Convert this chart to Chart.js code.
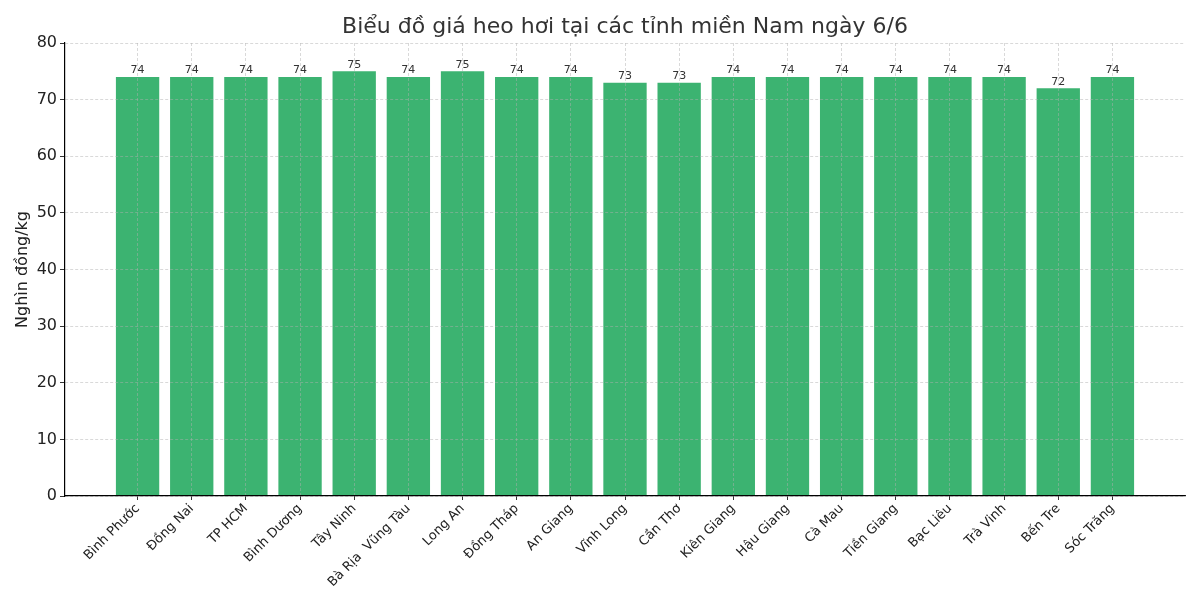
<!DOCTYPE html>
<html><head><meta charset="utf-8">
<script src="https://cdn.jsdelivr.net/npm/chart.js@4"></script>
<style>html,body{margin:0;padding:0;background:#fff}#wrap{width:1200px;height:600px}</style>
</head><body><div id="wrap"><canvas id="c" width="1200" height="600"></canvas></div>
<script>
const categories = ["Bình Phước","Đồng Nai","TP HCM","Bình Dương","Tây Ninh","Bà Rịa  Vũng Tàu","Long An","Đồng Tháp","An Giang","Vĩnh Long","Cần Thơ","Kiên Giang","Hậu Giang","Cà Mau","Tiền Giang","Bạc Liêu","Trà Vinh","Bến Tre","Sóc Trăng"];
const prices = [74,74,74,74,75,74,75,74,74,73,73,74,74,74,74,74,74,72,74];
const yTicks = [0,10,20,30,40,50,60,70,80];
const chartTitle = 'Biểu đồ giá heo hơi tại các tỉnh miền Nam ngày 6/6';

const FONT = "'DejaVu Sans', sans-serif";
Chart.defaults.font.family = FONT;
Chart.defaults.color = '#222';

const valueLabels = {
  id: 'valueLabels',
  afterDatasetsDraw(chart) {
    const ctx = chart.ctx;
    const meta = chart.getDatasetMeta(0);
    ctx.save();
    ctx.font = "11px " + FONT;
    ctx.fillStyle = '#333';
    ctx.textAlign = 'center';
    ctx.textBaseline = 'bottom';
    meta.data.forEach((el, i) => {
      ctx.fillText(String(prices[i]), el.x, el.y - 1);
    });
    ctx.restore();
  },
  afterDraw(chart) {
    const ctx = chart.ctx;
    const a = chart.chartArea;
    ctx.save();
    ctx.font = "22px " + FONT;
    ctx.fillStyle = '#333';
    ctx.textAlign = 'center';
    ctx.textBaseline = 'middle';
    ctx.fillText(chartTitle, (a.left + a.right) / 2, 27);
    ctx.restore();
  }
};

const gridCommon = {
  display: true,
  z: 1,
  color: 'rgba(175,175,175,0.6)',
  lineWidth: 0.8,
  drawTicks: true,
  tickColor: '#000',
  tickBorderDash: []
};

new Chart(document.getElementById('c'), {
  type: 'bar',
  data: {
    datasets: [{
      data: prices.map((v, i) => ({x: i, y: v})),
      backgroundColor: '#3CB371',
      borderWidth: 0,
      barPercentage: 0.8,
      categoryPercentage: 1.0
    }]
  },
  options: {
    responsive: false,
    animation: false,
    devicePixelRatio: 1,
    layout: {padding: {left: 0, right: 15, top: 43, bottom: 0}},
    plugins: {
      legend: {display: false},
      tooltip: {enabled: false},
      title: {display: false}
    },
    scales: {
      x: {
        type: 'linear',
        min: -1.34,
        max: 19.34,
        offset: false,
        afterBuildTicks: (s) => { s.ticks = categories.map((_, i) => ({value: i})); },
        afterFit: (s) => { s.height = 104; },
        ticks: {
          autoSkip: false,
          minRotation: 45,
          maxRotation: 45,
          font: {size: 13},
          color: '#222',
          padding: 1,
          z: 2,
          callback: (v) => categories[v] ?? ''
        },
        grid: Object.assign({}, gridCommon, {offset: false, tickLength: 4}),
        border: {display: true, color: '#000', width: 1.2, dash: [3, 2], z: 2}
      },
      y: {
        min: 0,
        max: 80,
        afterBuildTicks: (s) => { s.ticks = yTicks.map(v => ({value: v})); },
        afterFit: (s) => { s.width = 65; },
        ticks: {font: {size: 16}, color: '#222', padding: 3, z: 2},
        title: {
          display: true,
          text: 'Nghìn đồng/kg',
          font: {size: 16},
          color: '#222',
          padding: {top: 13, bottom: 0}
        },
        grid: Object.assign({}, gridCommon, {tickLength: 5}),
        border: {display: true, color: '#000', width: 1.2, dash: [3, 2], z: 2}
      }
    }
  },
  plugins: [valueLabels]
});
</script>
</body></html>
